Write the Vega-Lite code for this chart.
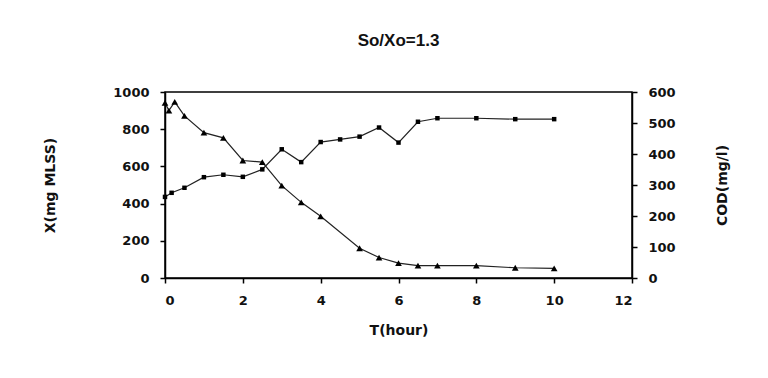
{
  "$schema": "https://vega.github.io/schema/vega-lite/v6.json",
  "width": 467,
  "height": 186,
  "autosize": {"type": "none"},
  "padding": {"left": 165, "top": 92, "right": 136, "bottom": 100},
  "background": "white",
  "title": {"text": "So/Xo=1.3", "fontSize": 17, "font": "Liberation Sans", "fontWeight": "bold", "color": "#111", "offset": 36, "anchor": "middle"},
  "datasets": {
    "biomass": [
      {"t": 0, "X": 436}, {"t": 0.17, "X": 458}, {"t": 0.5, "X": 485}, {"t": 1, "X": 542},
      {"t": 1.5, "X": 555}, {"t": 2, "X": 544}, {"t": 2.5, "X": 584}, {"t": 3, "X": 692},
      {"t": 3.5, "X": 623}, {"t": 4, "X": 731}, {"t": 4.5, "X": 745}, {"t": 5, "X": 760},
      {"t": 5.5, "X": 809}, {"t": 6, "X": 728}, {"t": 6.5, "X": 840}, {"t": 7, "X": 859},
      {"t": 8, "X": 859}, {"t": 9, "X": 854}, {"t": 10, "X": 854}
    ],
    "cod": [
      {"t": 0, "COD": 565}, {"t": 0.1, "COD": 540}, {"t": 0.25, "COD": 568}, {"t": 0.5, "COD": 523},
      {"t": 1, "COD": 469}, {"t": 1.5, "COD": 452}, {"t": 2, "COD": 379}, {"t": 2.5, "COD": 374},
      {"t": 3, "COD": 298}, {"t": 3.5, "COD": 244}, {"t": 4, "COD": 199}, {"t": 5, "COD": 96},
      {"t": 5.5, "COD": 66}, {"t": 6, "COD": 48}, {"t": 6.5, "COD": 40}, {"t": 7, "COD": 40},
      {"t": 8, "COD": 40}, {"t": 9, "COD": 33}, {"t": 10, "COD": 31}
    ]
  },
  "layer": [
    {
      "data": {"name": "biomass"},
      "encoding": {
        "x": {"field": "t", "type": "quantitative", "scale": {"domain": [0, 12], "nice": false},
              "axis": {"title": "T(hour)", "values": [0, 2, 4, 6, 8, 10, 12], "titleY": 52, "titleBaseline": "middle", "labelPadding": 11}},
        "y": {"field": "X", "type": "quantitative", "scale": {"domain": [0, 1000], "nice": false},
              "axis": {"title": "X(mg MLSS)", "orient": "left", "format": "d", "values": [0, 200, 400, 600, 800, 1000], "titleX": -115, "titleAngle": -90, "titleBaseline": "middle", "labelPadding": 11}}
      },
      "layer": [
        {"mark": {"type": "line", "color": "#222", "strokeWidth": 1.2}},
        {"mark": {"type": "point", "shape": "square", "filled": true, "color": "#000", "size": 20, "opacity": 1}}
      ]
    },
    {
      "data": {"name": "cod"},
      "encoding": {
        "x": {"field": "t", "type": "quantitative", "scale": {"domain": [0, 12], "nice": false}},
        "y": {"field": "COD", "type": "quantitative", "scale": {"domain": [0, 600], "nice": false},
              "axis": {"title": "COD(mg/l)", "orient": "right", "format": "d", "values": [0, 100, 200, 300, 400, 500, 600], "titleX": 90, "titleAngle": -90, "titleBaseline": "middle", "labelPadding": 11}}
      },
      "layer": [
        {"mark": {"type": "line", "color": "#222", "strokeWidth": 1.2}},
        {"mark": {"type": "point", "shape": "triangle-up", "filled": true, "color": "#000", "size": 45, "opacity": 1}}
      ]
    }
  ],
  "resolve": {"scale": {"y": "independent"}},
  "config": {
    "view": {"stroke": "#000", "strokeWidth": 1.5},
    "axis": {
      "grid": false,
      "domainColor": "#000",
      "domainWidth": 1.5,
      "tickColor": "#000",
      "tickWidth": 1.5,
      "tickSize": 5,
      "labelFont": "DejaVu Sans",
      "labelFontSize": 13,
      "labelFontWeight": "bold",
      "labelColor": "#111",
      "titleFont": "DejaVu Sans",
      "titleFontSize": 14,
      "titleFontWeight": "bold",
      "titleColor": "#111"
    }
  }
}
